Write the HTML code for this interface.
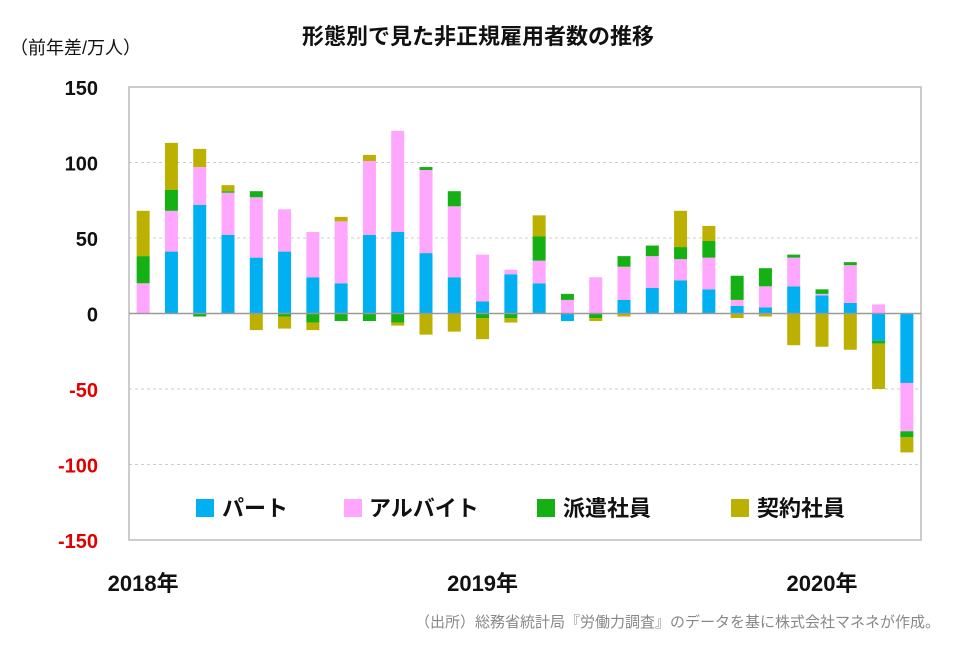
<!DOCTYPE html>
<html><head><meta charset="utf-8"><style>
body{margin:0;background:#fff;}
svg text{font-family:"Liberation Sans","Noto Sans CJK JP",sans-serif;}
</style></head><body>
<svg id="chart" width="960" height="645" viewBox="0 0 960 645" xmlns="http://www.w3.org/2000/svg">
<rect width="960" height="645" fill="#fff"/>
<text x="478" y="44" text-anchor="middle" font-size="22" font-weight="bold" fill="#111">形態別で見た非正規雇用者数の推移</text>
<text x="10" y="54" font-size="18" fill="#111">（前年差/万人）</text>
<g id="grid"></g>
<g id="bars"></g>
<rect x="129" y="87" width="792" height="453" fill="none" stroke="#bbb" stroke-width="1.5"/>
<line id="zero" stroke="#999" stroke-width="1.5"/>
<g id="yticks"></g>
<g id="legend" font-weight="bold">
<rect x="196" y="499" width="18" height="18" fill="#00b0f0"/>
<text x="222" y="516" font-size="22" fill="#111">パート</text>
<rect x="344" y="499" width="18" height="18" fill="#ffa6ff"/>
<text x="369" y="516" font-size="22" fill="#111">アルバイト</text>
<rect x="537" y="499" width="18" height="18" fill="#14b014"/>
<text x="563" y="516" font-size="22" fill="#111">派遣社員</text>
<rect x="731" y="499" width="18" height="18" fill="#bcb000"/>
<text x="757" y="516" font-size="22" fill="#111">契約社員</text>
</g>
<g id="xlabels"></g>
<text x="940" y="627" text-anchor="end" font-size="15" fill="#888">（出所）総務省統計局『労働力調査』のデータを基に株式会社マネネが作成。</text>
</svg>
<script>
const categories=["2018-01","2018-02","2018-03","2018-04","2018-05","2018-06","2018-07","2018-08","2018-09","2018-10","2018-11","2018-12","2019-01","2019-02","2019-03","2019-04","2019-05","2019-06","2019-07","2019-08","2019-09","2019-10","2019-11","2019-12","2020-01","2020-02","2020-03","2020-04"];
const part=[0,41,72,52,37,41,24,20,52,54,40,24,8,26,20,-5,0,9,17,22,16,5,4,18,12,7,-18,-46];
const arbeit=[20,27,25,28,40,28,30,41,49,67,55,47,31,3,15,9,24,22,21,14,21,4,14,19,1,25,6,-32];
const haken=[18,14,-2,1,4,-2,-6,-5,-5,-6,2,10,-3,-3,16,4,-3,7,7,8,11,16,12,2,3,2,-2,-4];
const keiyaku=[30,31,12,4,-11,-8,-5,3,4,-2,-14,-12,-14,-3,14,0,-2,-2,0,24,10,-3,-2,-21,-22,-24,-30,-10];
const yTicks=[150,100,50,0,-50,-100,-150];
const yearLabels=["2018年","2019年","2020年"];
const yearIdx=[0,12,24];
const series=[part,arbeit,haken,keiyaku];
const sNames=["part","arbeit","haken","keiyaku"];
const colors=["#00b0f0","#ffa6ff","#14b014","#bcb000"];
const X0=129,X1=921,Y0=87,Y1=540,NS="http://www.w3.org/2000/svg";
const yScale=v=>Y0+(150-v)*(Y1-Y0)/300;
const step=(X1-X0)/categories.length;
const xCenter=i=>X0+step*(i+0.5);
function mk(tag,attrs,parent){const e=document.createElementNS(NS,tag);for(const k in attrs)e.setAttribute(k,attrs[k]);document.getElementById(parent).appendChild(e);return e;}
yTicks.forEach(t=>{
 if(t!==150&&t!==-150&&t!==0){const g=mk('line',{x1:X0,x2:X1,y1:yScale(t),y2:yScale(t),stroke:'#ccc','stroke-dasharray':'3,3'},'grid');
 
 }
 const tx=mk('text',{x:98,y:yScale(t)+8,'text-anchor':'end','font-size':'20','font-weight':'bold',fill:t<0?'#e00000':'#111'},'yticks');
 tx.textContent=t;
 
 
});
const z=document.getElementById('zero');
z.setAttribute('x1',X0);z.setAttribute('x2',X1);z.setAttribute('y1',yScale(0));z.setAttribute('y2',yScale(0));
categories.forEach((c,i)=>{
 let pos=0,neg=0;const bw=13;
 series.forEach((s,k)=>{
  const v=s[i];if(v===0)return;
  let a,b;
  if(v>0){a=pos;b=pos+v;pos=b;}else{a=neg;b=neg+v;neg=b;}
  const ya=yScale(a),yb=yScale(b);
  const r=mk('rect',{x:xCenter(i)-bw/2,y:Math.min(ya,yb),width:bw,height:Math.abs(ya-yb),fill:colors[k]},'bars');
  
  
 });
});
yearLabels.forEach((l,j)=>{
 const t=mk('text',{x:xCenter(yearIdx[j]),y:591,'text-anchor':'middle','font-size':'22','font-weight':'bold',fill:'#111'},'xlabels');
 t.textContent=l;
 
 
});
</script>
</body></html>
